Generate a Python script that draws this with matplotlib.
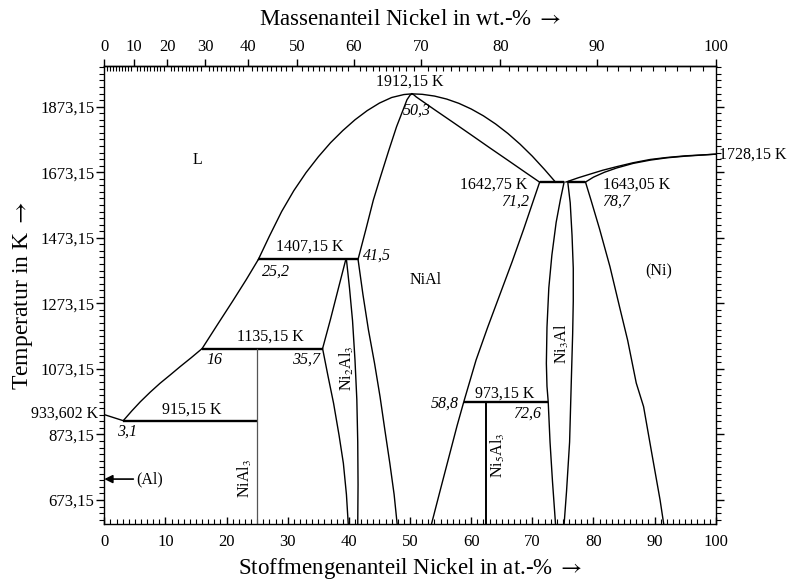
"""Al-Ni phase diagram (Stoffmengenanteil / Massenanteil Nickel)."""

import matplotlib.pyplot as plt
import numpy as np
from matplotlib.ticker import FuncFormatter, MultipleLocator

plt.rcParams["font.family"] = ["Liberation Serif", "DejaVu Serif"]
plt.rcParams["mathtext.fontset"] = "stix"

M_AL = 26.98
M_NI = 58.69

# boundary curves: x in at.-% Ni, T in K
al_liq_x = [0.0, 3.1]
al_liq_t = [933.602, 915.15]

liq1_x = [3.1, 4.5, 5.9, 7.5, 9.1, 10.8, 12.4, 14.2, 16.0]
liq1_t = [915.15, 945, 973, 1002, 1029, 1055, 1080, 1107, 1135.15]

liq2_x = [16.0, 18.5, 21.0, 23.2, 25.2]
liq2_t = [1135.15, 1208, 1280, 1345, 1407.15]

liq3_x = [25.2, 27.0, 29.0, 31.0, 33.0, 35.0, 37.0, 39.0, 41.0, 43.0, 45.0, 47.0, 49.0, 50.3]
liq3_t = [1407.15, 1478, 1553, 1617, 1672, 1720, 1763, 1800, 1833, 1861, 1884, 1901, 1910, 1912.15]

liq4_x = [50.3, 52.0, 54.0, 56.0, 58.0, 60.0, 62.0, 64.0, 66.0, 68.0, 70.0, 72.0, 73.8]
liq4_t = [1912.15, 1910.7, 1905.4, 1896.2, 1883.1, 1866.0, 1845.1, 1820.2, 1791.4, 1758.6, 1722.0, 1681.4, 1642.75]

nial_sol_l_x = [41.5, 42.8, 44.0, 45.1, 46.5, 47.8, 48.8, 49.5, 50.0, 50.3]
nial_sol_l_t = [1407.15, 1500, 1588, 1655, 1738, 1812, 1860, 1894, 1908, 1912.15]

nial_sol_r_x = [50.3, 50.6, 51.0, 52.0, 54.0, 57.0, 60.0, 63.0, 66.0, 69.0, 71.2]
nial_sol_r_t = [1912.15, 1909.5, 1903, 1890, 1864, 1825.7, 1787, 1748, 1709.6, 1670.9, 1642.75]

nial_l_x = [41.5, 42.3, 43.2, 44.2, 45.1, 45.9, 46.7, 47.4, 47.9]
nial_l_t = [1407.15, 1300, 1192, 1090, 988, 885, 785, 690, 599]

nial_r_x = [71.2, 70.2, 68.6, 66.7, 64.7, 62.7, 60.8, 58.8, 57.7, 56.3, 54.9, 53.5]
nial_r_t = [1642.75, 1588, 1500, 1400, 1300, 1200, 1100, 973.15, 900, 800, 700, 599]

ni2al3_l_x = [39.5, 38.3, 37.0, 35.7]
ni2al3_l_t = [1407.15, 1320, 1225, 1135.15]

ni2al3_l2_x = [35.7, 36.6, 37.5, 38.4, 39.1, 39.6, 39.9]
ni2al3_l2_t = [1135.15, 1050, 968, 870, 785, 690, 599]

ni2al3_r_x = [39.6, 40.1, 40.6, 41.0, 41.3, 41.45, 41.5, 41.45]
ni2al3_r_t = [1407.15, 1320, 1220, 1100, 980, 850, 720, 599]

ni3al_l_x = [75.2, 74.6, 73.9, 73.2, 72.7, 72.4, 72.3, 72.4, 72.6, 72.9, 73.3, 73.8]
ni3al_l_t = [1643.0, 1590, 1520, 1420, 1320, 1200, 1090, 1020, 973.15, 850, 730, 599]

ni3al_r_x = [75.8, 76.2, 76.5, 76.7, 76.7, 76.6, 76.4, 76.1, 75.6, 75.2]
ni3al_r_t = [1643.0, 1580, 1480, 1380, 1280, 1180, 1050, 850, 700, 599]

ni_solv_x = [78.7, 79.6, 81.0, 82.7, 84.3, 85.6, 87.0, 88.2, 89.5, 90.9, 91.5]
ni_solv_t = [1643.05, 1588, 1500, 1385, 1260, 1160, 1030, 958, 820, 673, 599]

ni_liq_x = [75.5, 77.5, 79.4, 81.5, 83.8, 86.5, 89.3, 92.0, 95.0, 100.0]
ni_liq_t = [1643.05, 1656, 1667, 1679, 1690, 1702, 1712, 1718, 1723, 1728.15]

ni_sol_x = [78.7, 80.0, 81.8, 83.8, 86.5, 89.3, 92.0, 95.0, 100.0]
ni_sol_t = [1643.05, 1658, 1673, 1686, 1700, 1710, 1717, 1722, 1728.15]

# isotherms: (x_start, x_end, T)
isotherms = [
    (3.1, 25.0, 915.15),
    (16.0, 35.7, 1135.15),
    (25.2, 41.5, 1407.15),
    (58.8, 72.6, 973.15),
    (71.2, 75.2, 1642.75),
    (75.8, 78.7, 1643.05),
]

nial3_x = 25.0
ni5al3_x = 62.5

wt_ticks = np.arange(0, 101, 10)
t_major = 200
t_minor = 20


def at_to_wt(x):
    x = np.asarray(x, dtype=float)
    return 100 * x * M_NI / (x * M_NI + (100 - x) * M_AL)


def wt_to_at(w):
    w = np.asarray(w, dtype=float)
    return 100 * (w / M_NI) / (w / M_NI + (100 - w) / M_AL)


fig = plt.figure(figsize=(7.92, 5.84), dpi=100)
ax = fig.add_axes([0.1317, 0.1022, 0.772, 0.7853])

curves = [
    (al_liq_x, al_liq_t), (liq1_x, liq1_t), (liq2_x, liq2_t), (liq3_x, liq3_t),
    (liq4_x, liq4_t), (nial_sol_l_x, nial_sol_l_t), (nial_sol_r_x, nial_sol_r_t),
    (nial_l_x, nial_l_t), (nial_r_x, nial_r_t), (ni2al3_l_x, ni2al3_l_t),
    (ni2al3_l2_x, ni2al3_l2_t), (ni2al3_r_x, ni2al3_r_t), (ni3al_l_x, ni3al_l_t),
    (ni3al_r_x, ni3al_r_t), (ni_solv_x, ni_solv_t), (ni_liq_x, ni_liq_t),
    (ni_sol_x, ni_sol_t),
]
for xs, ts in curves:
    ax.plot(xs, ts, color="black", lw=1.0, solid_joinstyle="round")

for x0, x1, t in isotherms:
    ax.plot([x0, x1], [t, t], color="black", lw=1.7, solid_capstyle="butt")

ax.plot([nial3_x, nial3_x], [599, 1135.15], color="#555555", lw=0.9)
ax.plot([ni5al3_x, ni5al3_x], [599, 973.15], color="black", lw=1.4)

ax.set_xlim(0, 100)
ax.set_ylim(599, 1998)

# ticks
ax.xaxis.set_major_locator(MultipleLocator(10))
ax.xaxis.set_minor_locator(MultipleLocator(1))
ax.yaxis.set_major_locator(MultipleLocator(t_major, offset=73.15))
ax.yaxis.set_minor_locator(MultipleLocator(t_minor, offset=13.15))
ax.yaxis.set_major_formatter(FuncFormatter(lambda v, p: f"{v:.2f}".replace(".", ",")))
ax.xaxis.set_major_formatter(FuncFormatter(lambda v, p: f"{v:.0f}"))
ax.tick_params(axis="x", which="both", direction="in", top=False, labelsize=12, pad=7)
ax.tick_params(axis="x", which="major", length=5, width=1)
ax.tick_params(axis="x", which="minor", length=3.5, width=0.8)
ax.tick_params(axis="y", which="both", direction="out", right=True, labelsize=12, pad=1.5)
ax.tick_params(axis="y", which="major", length=5.5, width=1)
ax.tick_params(axis="y", which="minor", length=3.5, width=0.8)
for s in ax.spines.values():
    s.set_linewidth(1.0)

sec = ax.secondary_xaxis("top", functions=(at_to_wt, wt_to_at))
sec.set_xticks(wt_ticks)
sec.set_xticks(np.arange(0, 101, 1), minor=True)
sec.xaxis.set_major_formatter(FuncFormatter(lambda v, p: f"{v:.0f}"))
sec.tick_params(which="major", direction="out", length=5, width=1, labelsize=12, pad=2.5)
sec.tick_params(which="minor", direction="in", length=3.5, width=0.8)
sec.spines["top"].set_linewidth(1.0)
sec.set_xlabel(r"Massenanteil Nickel in wt.-% $\rightarrow$", fontsize=16.5, labelpad=10.5)

ax.set_xlabel(r"Stoffmengenanteil Nickel in at.-% $\rightarrow$", fontsize=16.5, labelpad=4)
ax.set_ylabel(r"Temperatur in K $\rightarrow$", fontsize=17, labelpad=4)

# annotations
fs = 11.5
ax.text(15.3, 1710, "L", fontsize=fs, ha="center", va="center")
ax.text(50.0, 1950, "1912,15 K", fontsize=fs, ha="center", va="center")
ax.text(48.8, 1862, "50,3", fontsize=fs, style="italic", ha="left", va="center")
ax.text(33.6, 1446, "1407,15 K", fontsize=fs, ha="center", va="center")
ax.text(25.8, 1370, "25,2", fontsize=fs, style="italic", ha="left", va="center")
ax.text(42.3, 1420, "41,5", fontsize=fs, style="italic", ha="left", va="center")
ax.text(27.1, 1172, "1135,15 K", fontsize=fs, ha="center", va="center")
ax.text(16.7, 1100, "16", fontsize=fs, style="italic", ha="left", va="center")
ax.text(35.3, 1100, "35,7", fontsize=fs, style="italic", ha="right", va="center")
ax.text(39.7, 1075, "Ni$_2$Al$_3$", fontsize=fs, rotation=90, ha="center", va="center")
ax.text(14.3, 948, "915,15 K", fontsize=fs, ha="center", va="center")
ax.text(3.7, 881, "3,1", fontsize=fs, style="italic", ha="center", va="center")
ax.text(23.0, 740, "NiAl$_3$", fontsize=fs, rotation=90, ha="center", va="center")
ax.text(52.5, 1344, "NiAl", fontsize=fs, ha="center", va="center")
ax.text(63.7, 1634, "1642,75 K", fontsize=fs, ha="center", va="center")
ax.text(69.4, 1582, "71,2", fontsize=fs, style="italic", ha="right", va="center")
ax.text(81.6, 1634, "1643,05 K", fontsize=fs, ha="left", va="center")
ax.text(81.4, 1582, "78,7", fontsize=fs, style="italic", ha="left", va="center")
ax.text(90.6, 1370, "(Ni)", fontsize=fs, ha="center", va="center")
ax.text(74.8, 1150, "Ni$_3$Al", fontsize=fs, rotation=90, ha="center", va="center")
ax.text(65.5, 999, "973,15 K", fontsize=fs, ha="center", va="center")
ax.text(58.0, 968, "58,8", fontsize=fs, style="italic", ha="right", va="center")
ax.text(69.1, 937, "72,6", fontsize=fs, style="italic", ha="center", va="center")
ax.text(64.4, 810, "Ni$_5$Al$_3$", fontsize=fs, rotation=90, ha="center", va="center")
ax.text(-1.0, 938, "933,602 K", fontsize=fs, ha="right", va="center", clip_on=False)
ax.text(100.5, 1727, "1728,15 K", fontsize=fs, ha="left", va="center", clip_on=False)
ax.annotate("(Al)", xy=(0, 737), xytext=(5.2, 737), fontsize=fs, ha="left", va="center",
            arrowprops=dict(arrowstyle="-|>", color="black", lw=1.2,
                            shrinkA=0, shrinkB=0, mutation_scale=12))

fig.savefig("out.png", dpi=100)
